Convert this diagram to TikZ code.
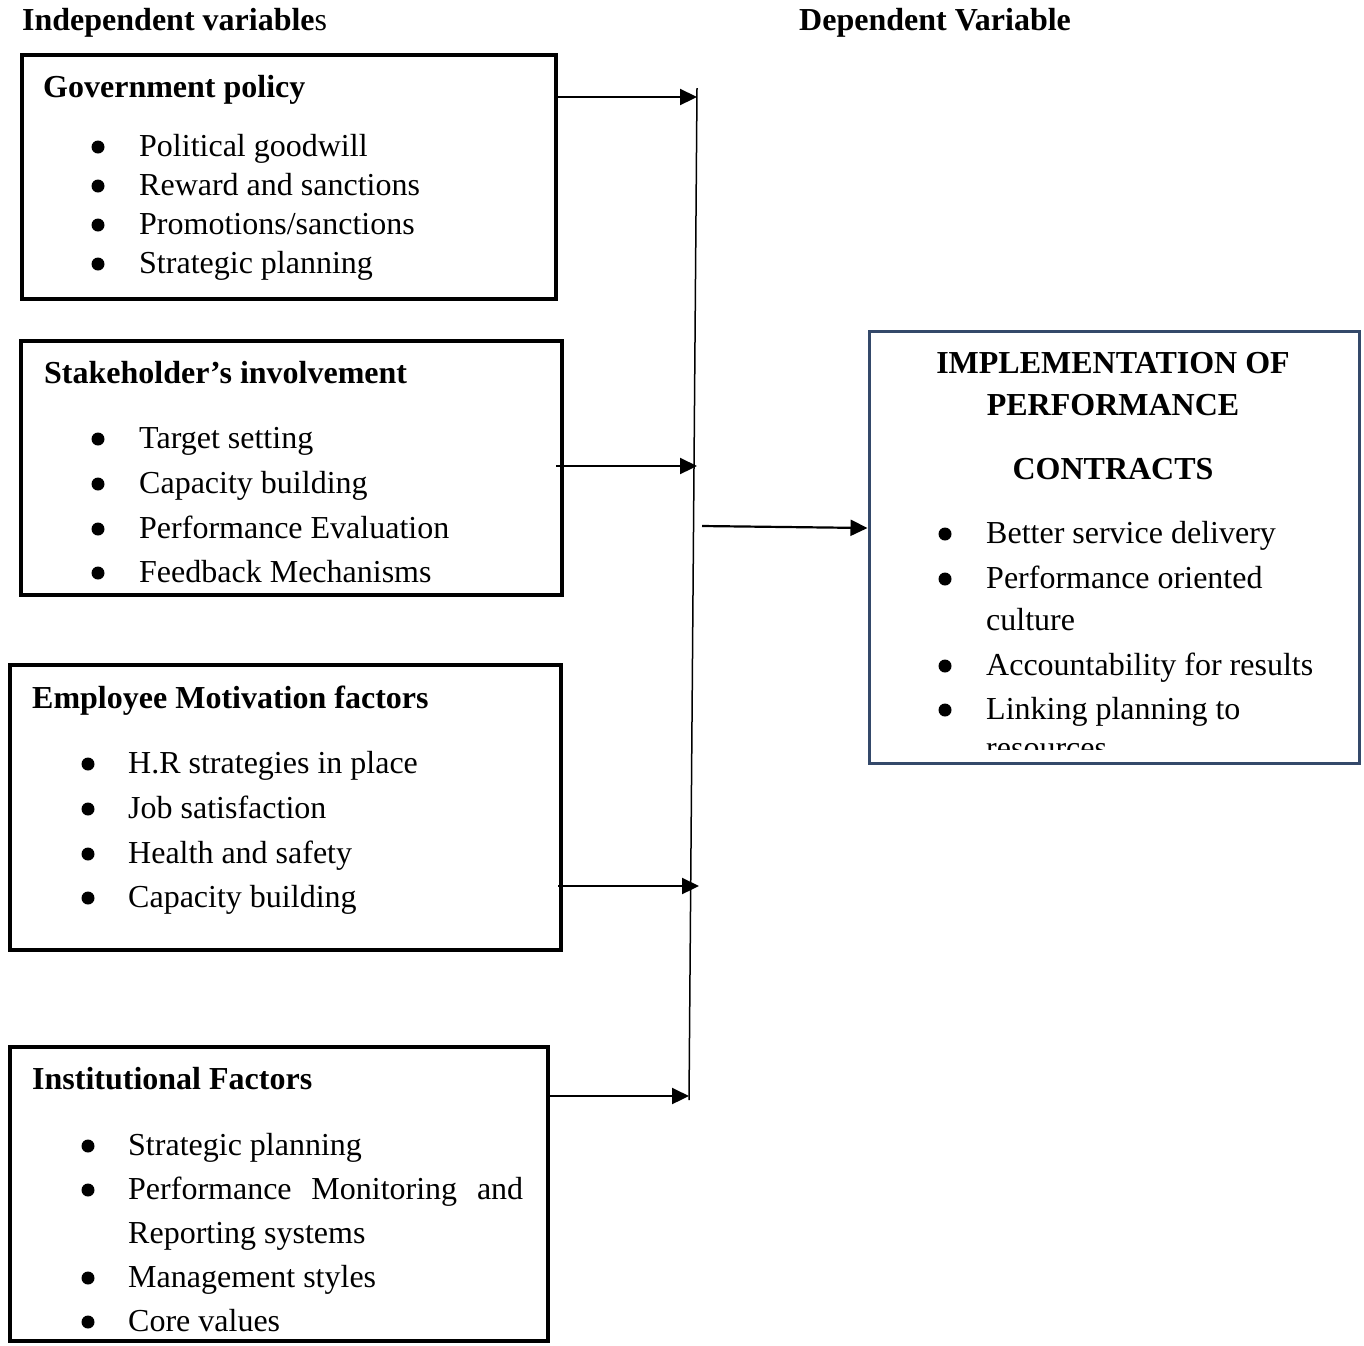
\documentclass[tikz,border=0pt]{standalone}
\usepackage{fontspec}
\setmainfont{Liberation Serif}
\usetikzlibrary{arrows.meta}
\definecolor{dvblue}{HTML}{34496A}
\begin{document}
\begin{tikzpicture}[x=1pt,y=-1pt,
  box/.style={draw, line width=4pt, inner sep=0pt},
  arr/.style={line width=2.2pt, -{Triangle[length=17pt,width=16pt]}},
  txt/.style={anchor=base west, inner sep=0pt, font=\fontsize{32}{38}\selectfont},
  ttl/.style={anchor=base west, inner sep=0pt, font=\fontsize{32}{38}\selectfont\bfseries},
  ctl/.style={anchor=base, inner sep=0pt, font=\fontsize{32}{38}\selectfont\bfseries},
  bul/.style={circle, fill, inner sep=0pt, minimum size=13pt}]
\useasboundingbox (0,0) rectangle (1364,1345);

% headers
\node[ttl] (hind) at (22,30) {Independent variable\mdseries s};
\node[ttl] (hdep) at (799,30) {Dependent Variable};

% boxes
\node[box, minimum width=534pt, minimum height=244pt] (gov) at (289,177) {};
\node[box, minimum width=541pt, minimum height=254pt] (stk) at (291.5,468) {};
\node[box, minimum width=551pt, minimum height=285pt] (emp) at (285.5,807.5) {};
\node[box, minimum width=538pt, minimum height=294pt] (ins) at (279,1194) {};
\node[draw=dvblue, line width=3pt, inner sep=0pt, minimum width=490pt, minimum height=432pt] (dep) at (1114,547) {};

% box 1
\node[ttl] (t1) at (43,97) {Government policy};
\node[bul] (b11) at (98,147) {}; \node[txt] (l11) at (139,156) {Political goodwill};
\node[bul] (b12) at (98,186) {}; \node[txt] (l12) at (139,195) {Reward and sanctions};
\node[bul] (b13) at (98,225) {}; \node[txt] (l13) at (139,234) {Promotions/sanctions};
\node[bul] (b14) at (98,264) {}; \node[txt] (l14) at (139,273) {Strategic planning};

% box 2
\node[ttl] (t2) at (44,383) {Stakeholder’s involvement};
\node[bul] (b21) at (98,439) {}; \node[txt] (l21) at (139,448) {Target setting};
\node[bul] (b22) at (98,484) {}; \node[txt] (l22) at (139,493) {Capacity building};
\node[bul] (b23) at (98,529) {}; \node[txt] (l23) at (139,538) {Performance Evaluation};
\node[bul] (b24) at (98,573) {}; \node[txt] (l24) at (139,582) {Feedback Mechanisms};

% box 3
\node[ttl] (t3) at (32,708) {Employee Motivation factors};
\node[bul] (b31) at (88,764) {}; \node[txt] (l31) at (128,773) {H.R strategies in place};
\node[bul] (b32) at (88,809) {}; \node[txt] (l32) at (128,818) {Job satisfaction};
\node[bul] (b33) at (88,854) {}; \node[txt] (l33) at (128,863) {Health and safety};
\node[bul] (b34) at (88,898) {}; \node[txt] (l34) at (128,907) {Capacity building};

% box 4
\node[ttl] (t4) at (32,1089) {Institutional Factors};
\node[bul] (b41) at (88,1146) {}; \node[txt] (l41) at (128,1155) {Strategic planning};
\node[bul] (b42) at (88,1190) {}; \node[txt] (l42) at (128,1199) {\makebox[395pt][s]{Performance Monitoring and}};
\node[txt] (l42b) at (128,1243) {Reporting systems};
\node[bul] (b43) at (88,1278) {}; \node[txt] (l43) at (128,1287) {Management styles};
\node[bul] (b44) at (88,1322) {}; \node[txt] (l44) at (128,1331) {Core values};

% dependent box
\node[ctl] (d1) at (1113,373) {IMPLEMENTATION OF};
\node[ctl] (d2) at (1113,415) {PERFORMANCE};
\node[ctl] (d3) at (1113,479) {CONTRACTS};
\node[bul] (db1) at (945,534) {}; \node[txt] (dl1) at (986,543) {Better service delivery};
\node[bul] (db2) at (945,579) {}; \node[txt] (dl2) at (986,588) {Performance oriented};
\node[txt] (dl2b) at (986,630) {culture};
\node[bul] (db3) at (945,666) {}; \node[txt] (dl3) at (986,675) {Accountability for results};
\node[bul] (db4) at (945,710) {}; \node[txt] (dl4) at (986,719) {Linking planning to};
\begin{scope}
\clip (900,722) rectangle (1340,749);
\node[txt] (dl5) at (986,758) {resources};
\end{scope}

% connector line
\coordinate (vtop) at (697,88);
\coordinate (vbot) at (689,1100);
\draw[line width=1.5pt] (vtop) -- (vbot);
\coordinate (a1) at (697,97);
\coordinate (a2) at (697,466);
\coordinate (a3) at (699,886);
\coordinate (a4) at (689,1096);
\coordinate (a5) at (702,526);
\draw[arr] (gov.east |- a1) -- (a1);
\draw[arr] (556,466) -- (a2);
\draw[arr] (558,886) -- (a3);
\draw[arr] (ins.east |- a4) -- (a4);
\draw[arr] (a5) -- (dep.west |- 0,528);
\end{tikzpicture}
\end{document}
